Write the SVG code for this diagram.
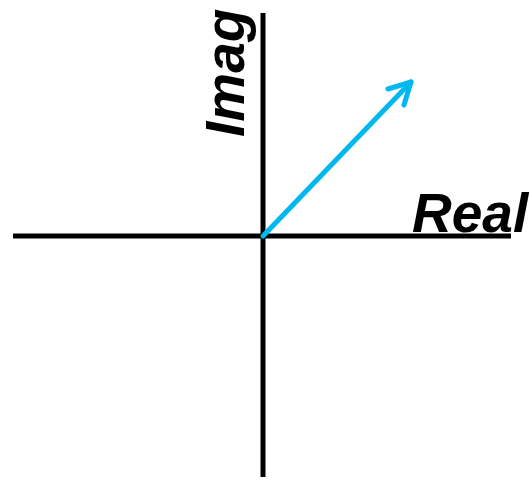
<svg xmlns="http://www.w3.org/2000/svg" width="529" height="480" viewBox="0 0 529 480">
<style>
.axis{stroke:#000;stroke-width:5;fill:none}
.vec{stroke:#00B8F0;stroke-width:5;fill:none;stroke-linecap:round;stroke-linejoin:round}
.lbl{font-family:"Liberation Sans",Arial,sans-serif;font-weight:bold;font-style:italic;font-size:55px;fill:#000}
</style>
<rect width="529" height="480" fill="#fff"/>
<g id="connectors">
<line class="axis" x1="13" y1="236" x2="511" y2="236"/>
<line class="axis" x1="263" y1="13" x2="263" y2="477"/>
<g id="vector">
<line class="vec" x1="263" y1="236" x2="411" y2="82"/>
<polyline class="vec" points="388,89 411,82 404,105"/>
</g>
</g>
<g id="real-label"><text class="lbl" x="412" y="232">Real</text></g>
<g id="imag-label"><text class="lbl" transform="translate(244,137) rotate(-90)">Imag</text></g>
</svg>
